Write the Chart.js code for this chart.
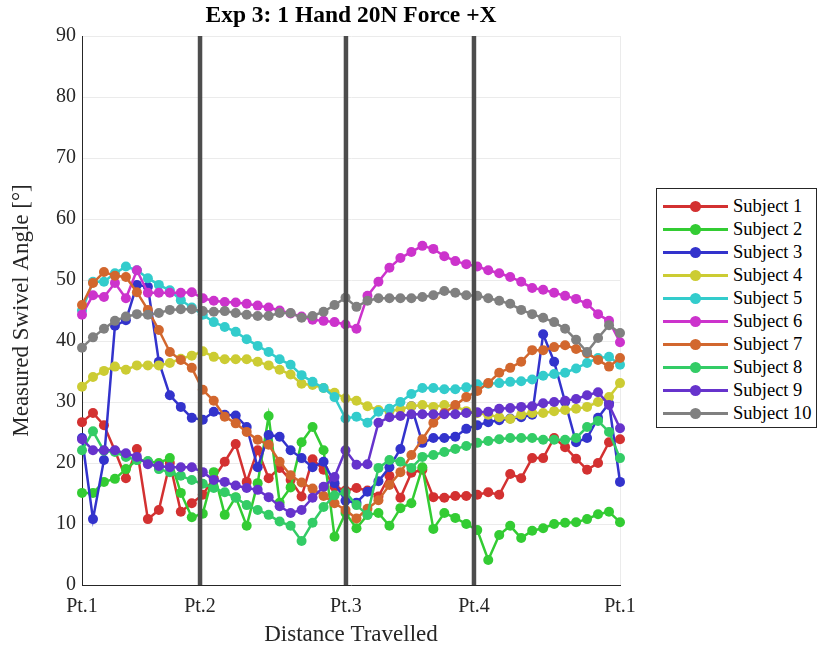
<!DOCTYPE html>
<html lang="en">
<head>
  <meta charset="UTF-8">
  <title>Exp 3: 1 Hand 20N Force +X</title>
  <script src="https://cdn.jsdelivr.net/npm/chart.js"></script>
  <style>
    body { margin: 0; background: #fff; font-family: "Liberation Serif", "Times New Roman", serif; color: #262626; }
    #wrap { position: relative; width: 818px; height: 650px; }
    #title { position: absolute; left: 82px; width: 538px; top: 1px; text-align: center; font-weight: bold; font-size: 23.5px; color: #000; }
    #legend { position: absolute; left: 656px; top: 188px; width: 161px; height: 240px; border: 1px solid #262626; box-sizing: border-box; background: #fff; }
    .row { position: absolute; left: 0; height: 23px; width: 100%; }
    .row .ln { position: absolute; left: 6px; top: 10px; width: 65px; height: 3px; }
    .row .dot { position: absolute; left: 33px; top: 6px; width: 11px; height: 11px; border-radius: 50%; }
    .row .tx { position: absolute; left: 76px; top: 0px; font-size: 18.5px; line-height: 22px; white-space: nowrap; color: #000; }
  </style>
</head>
<body>
  <div id="wrap">
    <canvas id="swivelChart" width="818" height="650"></canvas>
    <div id="title">Exp 3: 1 Hand 20N Force +X</div>
    <div id="legend"></div>
  </div>

  <script>
    // x positions of the way points (sample index along the path)
    const tickPos = [0, 10.75, 24.04, 35.7, 49];
    const tickLabels = ['Pt.1', 'Pt.2', 'Pt.3', 'Pt.4', 'Pt.1'];
    const phaseMarks = [10.75, 24.04, 35.7];

    const subjectNames = ['Subject 1', 'Subject 2', 'Subject 3', 'Subject 4', 'Subject 5',
                          'Subject 6', 'Subject 7', 'Subject 8', 'Subject 9', 'Subject 10'];
    const subjectColors = ['#d33131', '#33cc33', '#3333cc', '#cccc33', '#33cccc',
                           '#cc33cc', '#d2672e', '#33cc66', '#6633cc', '#808080'];

    const subject1 = [26.7,28.2,26.2,22,17.5,22.3,10.8,12.3,20,12, 13.4,14.8,17.5,20.2,23.1,16.9,22.1,17.5,19.2,17.2,
                      14.5,20.6,18.9,16.1,15.5,15.9,15.5,14.5,17.9,14.3, 18.4,18.9,14.4,14.3,14.6,14.6,14.8,15.2,14.8,18.2,
                      17.5,20.8,20.8,24.1,22.6,20.7,18.9,20,23.4,23.9];
    const subject2 = [15.1,15.1,16.9,17.4,19,20.5,20.3,20,20.8,15.1, 11.1,11.7,18.5,11.5,14.4,9.7,16.7,27.7,13.5,16,
                      23.4,25.9,22.1,7.9,11.8,9.3,11.5,11.8,9.7,12.6, 13.4,19.3,9.2,11.8,11,10,9,4.1,8.2,9.7,
                      7.7,8.9,9.3,10,10.2,10.3,10.8,11.6,12,10.3];
    const subject3 = [24.1,10.8,20.5,42.5,43.4,49.2,48.9,36.6,31.1,29.2, 27.4,27.1,28.4,27.9,27.8,25.9,19.3,24.6,24.3,22.1,
                      20.8,19.3,20.2,16.7,13.8,13.5,15.3,17,19.3,22.3, 29.3,23.3,24.1,24.1,24.3,25.6,26.2,26.7,27,27.3,
                      27.5,27.9,41.1,36.6,30,23.4,24.1,27.4,29.8,16.9];
    const subject4 = [32.5,34.1,35.1,35.8,35.3,36,36,36,36.4,37.1, 37.6,38.3,37.4,37,37,37,36.6,36,35.3,34.5,
                      33,32.8,32.3,31.5,30.6,30.2,29.3,28.7,28.5,28.8, 29.3,29.5,29.2,29.5,29.3,28.5,28.2,27.9,27.5,27.2,
                      27.9,28.2,28.2,28.5,28.7,28.9,29.2,30,30.8,33.1];
    const subject5 = [45,49.7,49.7,51.1,52.2,51.6,50.3,49.2,48.3,46.7, 45.5,44.3,43.1,42.3,41.5,40.3,39.2,38.2,37,36.1,
                      34.4,33.3,32.3,30.8,27.3,27.6,26.6,28.4,28.9,30, 31.3,32.3,32.3,32.1,32.1,32.4,32.9,33,33.1,33.3,
                      33.4,33.7,34.3,34.6,34.8,35.5,36.4,37.2,37.4,36.1];
    const subject6 = [44.3,47.5,47.2,49.5,47,51.6,47.9,47.9,47.9,47.9, 48,47,46.6,46.4,46.3,46.1,45.8,45.5,45,44.5,
                      44,43.5,43.3,43.1,42.7,42,47.4,49.7,52,53.6, 54.6,55.6,55.1,53.9,53.1,52.6,52.2,51.6,51.1,50.5,
                      49.7,48.7,48.4,47.9,47.4,46.9,46.1,44.4,43.3,39.8];
    const subject7 = [45.9,49.5,51.3,50.7,50.5,48,45.1,41.8,38.2,36.9, 35.6,32,30.2,27.6,26.5,25.1,23.8,23,20.2,18,
                      16.8,15.8,14.6,13.4,12.3,10.9,12.5,13.9,16.4,18.5, 21.3,23.9,26.6,28.2,29.5,30.8,31.8,33.1,34.8,35.6,
                      36.6,38.5,38.5,39,39.3,38.7,38,36.9,35.8,37.2];
    const subject8 = [22.1,25.2,22,21.8,21,20.5,20.3,19,18.5,17.9, 17.2,16.6,15.9,15.2,14.3,13.1,12.3,11.5,10.4,9.7,
                      7.2,10.2,12.8,14.7,15.2,13.1,11.5,19.2,20.5,20.2, 19.2,21,21.3,21.8,22.3,22.8,23.3,23.6,23.9,24.1,
                      24.1,24.1,23.8,23.8,23.8,24.1,25.9,26.9,25.1,20.8];
    const subject9 = [23.9,22.1,22.1,22.1,21.6,21,19.8,19.5,19.3,19.3, 19.3,18.5,17.2,16.9,16.3,15.9,15.6,14.4,12.9,11.8,
                      12.3,14.3,16.1,17.7,22.1,19.7,19.8,26.6,27.5,27.7, 28,28,28,28,28,28.2,28.3,28.4,28.9,29,
                      29.2,29.3,29.8,30,30.2,30.5,31.1,31.6,29.5,25.7];
    const subject10 = [38.9,40.6,42,43.3,44,44.4,44.3,44.6,45.1,45.2, 45.2,44.9,44.8,44.9,44.6,44.3,44.1,44.1,44.6,44.6,
                       43.8,44.1,44.8,45.9,47.1,45.6,46.6,47,47,47, 47,47.2,47.5,48.2,47.9,47.5,47.4,47,46.6,46.1,
                       45.1,44.4,43.8,43.1,42,40.2,38.2,40.5,42.6,41.3];

    const allSubjects = [subject1, subject2, subject3, subject4, subject5,
                         subject6, subject7, subject8, subject9, subject10];

    const serif = '"Liberation Serif", "Times New Roman", serif';

    // thick dark lines at Pt.2 / Pt.3 / Pt.4, drawn over the data like the original
    const phaseLines = {
      id: 'phaseLines',
      afterDatasetsDraw(chart) {
        const { ctx, chartArea, scales } = chart;
        ctx.save();
        ctx.strokeStyle = '#4d4d4d';
        ctx.lineWidth = 4.5;
        phaseMarks.forEach(v => {
          const x = scales.x.getPixelForValue(v);
          ctx.beginPath();
          ctx.moveTo(x, chartArea.top);
          ctx.lineTo(x, chartArea.bottom);
          ctx.stroke();
        });
        ctx.restore();
      }
    };

    const datasets = allSubjects.map((vals, i) => ({
      label: subjectNames[i],
      data: vals.map((v, k) => ({ x: k, y: v })),
      borderColor: subjectColors[i],
      backgroundColor: subjectColors[i],
      borderWidth: 2.5,
      pointRadius: 5,
      pointBorderWidth: 0,
      pointHoverRadius: 5,
      clip: false,
      order: 9 - i
    }));

    new Chart(document.getElementById('swivelChart'), {
      type: 'line',
      data: { datasets: datasets },
      options: {
        responsive: false,
        animation: false,
        layout: { padding: { top: 36, right: 198, left: 0, bottom: 0 } },
        plugins: {
          legend: { display: false },
          tooltip: { enabled: false }
        },
        scales: {
          x: {
            type: 'linear',
            min: 0,
            max: 49,
            afterBuildTicks: s => { s.ticks = tickPos.map(v => ({ value: v })); },
            afterFit: s => { s.height = 65; },
            ticks: {
              autoSkip: false,
              maxRotation: 0,
              padding: 10,
              color: '#262626',
              font: { family: serif, size: 20 },
              callback: (v, i) => tickLabels[i]
            },
            grid: { color: '#ebebeb', drawTicks: false },
            border: { color: '#262626', width: 1 },
            title: {
              display: true,
              text: 'Distance Travelled',
              color: '#262626',
              font: { family: serif, size: 23 },
              padding: { top: 0, bottom: 1 }
            }
          },
          y: {
            min: 0,
            max: 90,
            afterFit: s => { s.width = 82; },
            ticks: {
              stepSize: 10,
              padding: 6,
              color: '#262626',
              font: { family: serif, size: 20 }
            },
            grid: { color: '#ebebeb', drawTicks: false },
            border: { color: '#262626', width: 1 },
            title: {
              display: true,
              text: 'Measured Swivel Angle [°]',
              color: '#262626',
              font: { family: serif, size: 23 },
              padding: { top: 8, bottom: 0 }
            }
          }
        }
      },
      plugins: [phaseLines]
    });

    // legend box on the right
    const legendBox = document.getElementById('legend');
    subjectNames.forEach((name, i) => {
      const row = document.createElement('div');
      row.className = 'row';
      row.style.top = (6 + i * 23) + 'px';
      row.innerHTML = '<span class="ln" style="background:' + subjectColors[i] + '"></span>' +
                      '<span class="dot" style="background:' + subjectColors[i] + '"></span>' +
                      '<span class="tx">' + name + '</span>';
      legendBox.appendChild(row);
    });
  </script>
</body>
</html>
